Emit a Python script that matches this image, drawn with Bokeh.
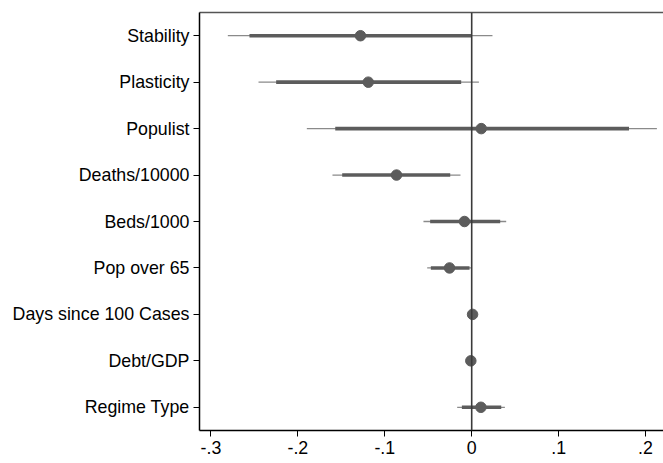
from bokeh.plotting import figure
from bokeh.models import FactorRange, Range1d, Span, LinearAxis, FixedTicker, CustomJSTickFormatter
from bokeh.embed import file_html
from bokeh.resources import INLINE

# Data (top to bottom as displayed)
labels = ["Stability", "Plasticity", "Populist", "Deaths/10000", "Beds/1000",
          "Pop over 65", "Days since 100 Cases", "Debt/GDP", "Regime Type"]
coef = [-0.128, -0.119, 0.011, -0.0865, -0.0083, -0.0255, 0.001, -0.001, 0.0106]
lo90 = [-0.2557, -0.225, -0.157, -0.149, -0.0478, -0.047, 0.0002, -0.0018, -0.0113]
hi90 = [0.0002, -0.0121, 0.181, -0.0247, 0.0328, -0.0025, 0.0018, -0.0002, 0.034]
lo95 = [-0.2806, -0.2453, -0.1897, -0.1602, -0.0555, -0.0512, 0.0, -0.002, -0.0167]
hi95 = [0.0239, 0.0083, 0.2131, -0.0129, 0.0397, 0.0002, 0.002, 0.0, 0.0382]
xticks = [-0.3, -0.2, -0.1, 0.0, 0.1, 0.2]

FONT = "Liberation Sans"
MARK = "#5c5c5c"
THIN = "#8a8a8a"

p = figure(width=663, height=463, output_backend="svg", toolbar_location=None,
           y_range=FactorRange(factors=labels[::-1], range_padding=0),
           x_range=Range1d(-0.3132, 0.2207),
           min_border_left=199, min_border_right=0, min_border_top=12, min_border_bottom=33)
p.outline_line_color = None
p.xgrid.grid_line_color = None
p.ygrid.grid_line_color = None
p.background_fill_color = "white"
p.border_fill_color = "white"

# zero reference line
p.add_layout(Span(location=0, dimension="height", line_color="#3a3a3a", line_width=1.6))

p.segment(x0=lo95, y0=labels, x1=hi95, y1=labels, line_color=THIN, line_width=1.3)
p.segment(x0=lo90, y0=labels, x1=hi90, y1=labels, line_color=MARK, line_width=3.6)
p.scatter(x=coef, y=labels, size=10.5, fill_color=MARK, line_color=MARK)

xa = p.xaxis[0]
xa.ticker = FixedTicker(ticks=xticks)
xa.formatter = CustomJSTickFormatter(code="""
if (Math.abs(tick) < 1e-9) return '0';
var s = tick.toFixed(1);
return s.replace('0.', '.');
""")
ya = p.yaxis[0]
for ax in (xa, ya):
    ax.axis_line_color = "black"
    ax.axis_line_width = 1.5
    ax.major_tick_line_color = "black"
    ax.major_tick_line_width = 1
    ax.major_tick_out = 6
    ax.major_tick_in = 0
    ax.minor_tick_line_color = None
    ax.major_label_text_font = FONT
    ax.major_label_text_font_size = "17.8px"
    ax.major_label_text_color = "black"
    ax.major_label_standoff = 4
ya.group_text_font_size = "0px"

top = LinearAxis(ticker=FixedTicker(ticks=[]), major_label_text_font_size="0px",
                 major_tick_line_color=None, minor_tick_line_color=None,
                 axis_line_color="#555555", axis_line_width=1.6,
                 major_label_standoff=0, major_tick_out=0, major_tick_in=0)
p.add_layout(top, "above")

open("out.html", "w").write(file_html(p, INLINE))
